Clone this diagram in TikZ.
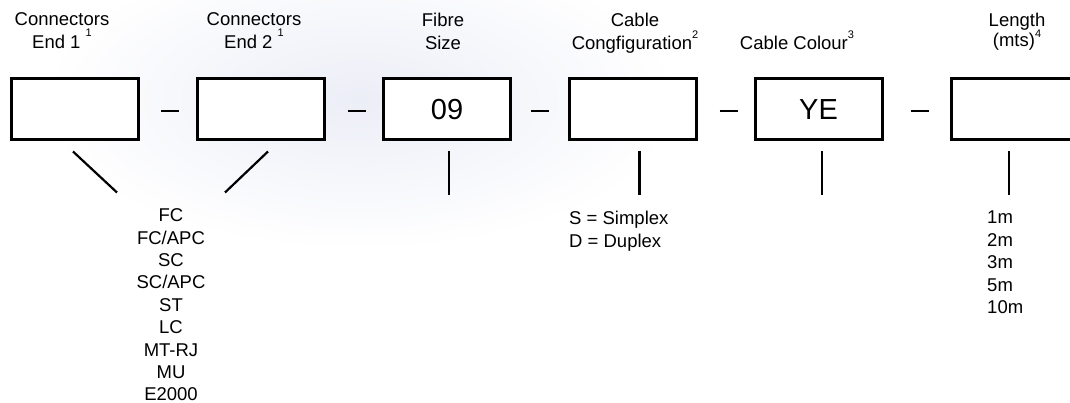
\documentclass[tikz,border=0pt]{standalone}
\usepackage{fontspec}
\setmainfont{Liberation Sans}
\usetikzlibrary{calc}

\definecolor{glow}{RGB}{236,238,247}
\newcommand{\fnmark}[2][11pt]{\smash{\raisebox{#1}{\fontsize{11}{11}\selectfont #2}}}

\begin{document}
\begin{tikzpicture}[x=1pt,y=-1pt,
    codebox/.style={draw,fill=white,line width=3pt,minimum width=127pt,minimum height=61pt,inner sep=0pt,font=\fontsize{29}{29}\selectfont},
    heading/.style={align=center,anchor=north,inner sep=0pt,font=\fontsize{18.5}{23}\selectfont},
    choices/.style={anchor=north,inner sep=0pt,font=\fontsize{18.5}{22.4}\selectfont},
    sepline/.style={line width=2pt},
    stem/.style={line width=2.2pt}]
    \useasboundingbox (0,0) rectangle (1070,403);
    \clip (0,0) rectangle (1070,403);
    \shade[inner color=glow,outer color=white] (360,100) ellipse (320 and 150);

    % part number boxes
    \node[codebox] (end1) at (74.5,109.5) {};
    \node[codebox] (end2) at (260.5,109.5) {};
    \node[codebox] (size) at (447,109.5) {09};
    \node[codebox] (config) at (633,109.5) {};
    \node[codebox] (colour) at (818.5,109.5) {YE};
    \node[codebox] (length) at (1014.5,109.5) {};

    % dashes between the boxes
    \draw[sepline] ($(end1.east)!0.55!(end2.west)+(-9,1.5)$) -- +(18,0);
    \draw[sepline] ($(end2.east)!0.55!(size.west)+(-9,1.5)$) -- +(18,0);
    \draw[sepline] ($(size.east)!0.5!(config.west)+(-9,1.5)$) -- +(18,0);
    \draw[sepline] ($(config.east)!0.55!(colour.west)+(-9,1.5)$) -- +(18,0);
    \draw[sepline] ($(colour.east)!0.55!(length.west)+(-9,1.5)$) -- +(18,0);

    % headings
    \node[heading] (end1head) at (62,12.5) {Connectors\\End 1 \fnmark[12pt]{1}};
    \node[heading] (end2head) at (254,12.5) {Connectors\\End 2 \fnmark[12pt]{1}};
    \node[heading] (sizehead) at (443,12.5) {Fibre\\Size};
    \node[heading] (confighead) at (635,12.5) {Cable\\Congfiguration\fnmark{2}};
    \node[heading,anchor=base] (colourhead) at (797,50) {Cable Colour\fnmark{3}};
    \node[heading,font=\fontsize{18.5}{20.7}\selectfont] (lengthhead) at (1017,12.5) {Length\\(mts)\fnmark[9pt]{4}};

    % stems down to the option lists
    \draw[stem] ([xshift=-1.5pt,yshift=-10pt]end1.south) -- ++(44,41);
    \draw[stem] ([xshift=7.5pt,yshift=-10pt]end2.south) -- ++(-43,41);
    \draw[stem] ([xshift=2pt,yshift=-10pt]size.south) -- ++(0,44);
    \draw[stem] ([xshift=6.5pt,yshift=-10pt]config.south) -- ++(0,44);
    \draw[stem] ([xshift=3.5pt,yshift=-10pt]colour.south) -- ++(0,44);
    \draw[stem] ([xshift=-5.5pt,yshift=-10pt]length.south) -- ++(0,44);

    % option lists
    \node[choices,align=center] (endlist) at (171,208.5) {FC\\FC/APC\\SC\\SC/APC\\ST\\LC\\MT-RJ\\MU\\E2000};
    \node[choices,align=left,anchor=north west] (configlist) at (569,211) {S = Simplex\\D = Duplex};
    \node[choices,align=left,anchor=north west] (lengthlist) at (987,211) {1m\\2m\\3m\\5m\\10m};
\end{tikzpicture}
\end{document}
